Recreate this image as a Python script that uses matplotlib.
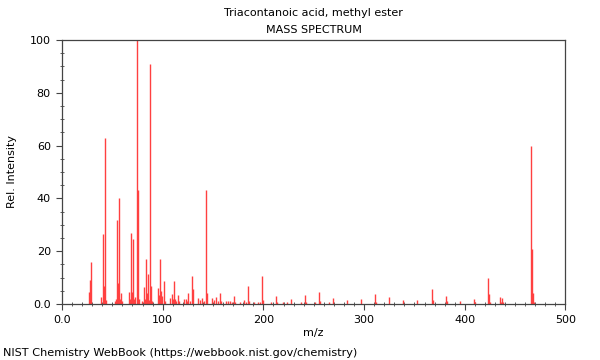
import matplotlib
matplotlib.use("Agg")
import matplotlib.pyplot as plt
from matplotlib.ticker import MultipleLocator

# m/z values and relative intensities
mz = [27, 28, 29, 39, 41, 42, 43, 44, 53, 54, 55, 56, 57, 58, 59, 60,
      67, 68, 69, 70, 71, 72, 73, 74, 75, 76, 79, 81, 82, 83, 84, 85, 86, 87, 88, 89,
      95, 96, 97, 98, 99, 101, 102, 107, 109, 110, 111, 112, 113, 115, 116,
      121, 123, 124, 125, 127, 129, 130, 135, 137, 139, 141, 143, 144,
      149, 151, 153, 155, 157, 158, 163, 165, 167, 169, 171, 172, 177, 181, 183,
      185, 186, 191, 195, 197, 199, 200, 208, 213, 214, 219, 223, 227, 237,
      241, 242, 251, 255, 256, 265, 269, 283, 297, 311, 312, 325, 339, 353,
      367, 368, 381, 382, 395, 409, 410, 423, 424, 425, 435, 436, 437, 438,
      466, 467, 468, 469]
intensity = [4.5, 9, 16, 2.5, 26.5, 7, 63, 1.5, 1, 2, 32, 8, 40, 2, 4, 1,
             4.5, 2, 27, 4.5, 24.5, 2, 2.5, 100, 43, 2, 1, 6.5, 2, 17, 4, 11.5, 1.5, 91, 7, 1,
             6, 3.5, 17, 5, 3, 8.7, 1, 2.3, 3.7, 2, 8.7, 2, 1, 3.4, 1,
             2, 2, 1, 4, 1, 10.6, 5.5, 2.3, 1.5, 2.3, 1, 43, 4,
             2.2, 1.5, 2.6, 1, 4.2, 1, 1.2, 1, 1.3, 0.8, 3, 0.8, 0.8, 1.5, 0.8,
             6.7, 1.3, 0.8, 0.8, 0.8, 10.6, 1.5, 0.8, 3, 0.6, 0.8, 0.8, 1.8, 0.8,
             3.3, 0.8, 0.6, 4.7, 1, 0.6, 2.1, 1.5, 1.8, 3.7, 0.8, 2.5, 1.5, 1.5,
             5.6, 1.5, 3.2, 1, 1, 1.9, 0.6, 10, 3.8, 0.8, 2.5, 0.8, 2.3, 0.8,
             59.8, 20.7, 4.3, 0.8]

x_ticks = [0, 100, 200, 300, 400, 500]
x_labels = ["0.0", "100", "200", "300", "400", "500"]
y_ticks = [0, 20, 40, 60, 80, 100]
y_labels = ["0.0", "20", "40", "60", "80", "100"]

fig = plt.figure(figsize=(6, 3.6), dpi=100)
ax = fig.add_axes([0.1033, 0.1556, 0.8392, 0.7333])

ax.vlines(mz, 0, intensity, color="#ff4040", lw=1.0)

ax.set_xlim(0, 500)
ax.set_ylim(0, 100)
ax.set_xticks(x_ticks)
ax.set_xticklabels(x_labels)
ax.set_yticks(y_ticks)
ax.set_yticklabels(y_labels)
ax.xaxis.set_minor_locator(MultipleLocator(10))
ax.yaxis.set_minor_locator(MultipleLocator(5))
ax.tick_params(which="major", direction="out", length=4.5, width=0.8, labelsize=8, color="#444444")
ax.tick_params(which="minor", direction="inout", length=3, width=0.6, color="#444444")
for s in ax.spines.values():
    s.set_color("#444444")
    s.set_linewidth(0.9)

ax.set_xlabel("m/z", fontsize=8, labelpad=2)
ax.set_ylabel("Rel. Intensity", fontsize=8, labelpad=9)

fig.text(0.523, 0.964, "Triacontanoic acid, methyl ester", ha="center", va="center", fontsize=8)
fig.text(0.523, 0.917, "MASS SPECTRUM", ha="center", va="center", fontsize=8)
fig.text(0.005, 0.02, "NIST Chemistry WebBook (https://webbook.nist.gov/chemistry)",
         ha="left", va="center", fontsize=8.15)

fig.savefig("out.png", dpi=100)
